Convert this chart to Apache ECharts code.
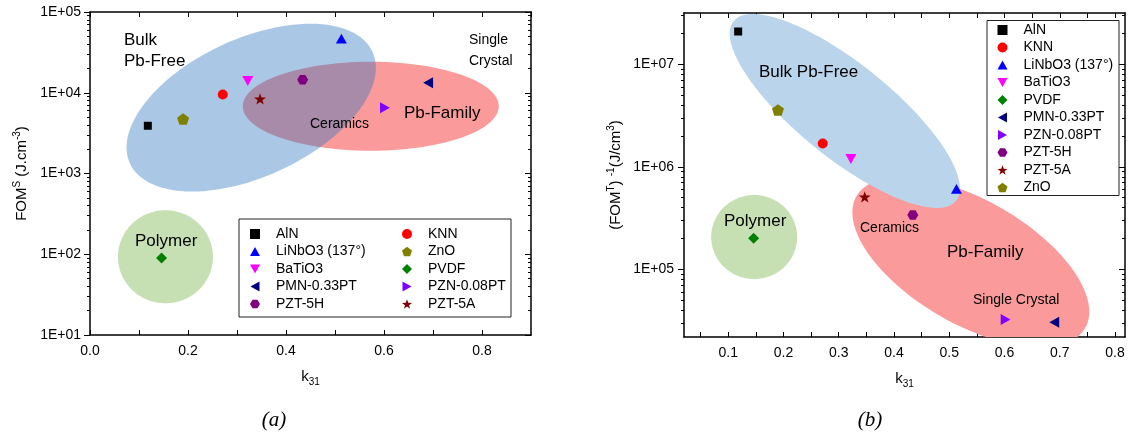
<!DOCTYPE html>
<html>
<head>
<meta charset="utf-8">
<script src="https://cdn.jsdelivr.net/npm/echarts@6/dist/echarts.min.js"></script>
<style>
html, body { margin: 0; padding: 0; background: #fff; }
#main { width: 1129px; height: 437px; }
</style>
</head>
<body>
<div id="main"></div>
<script>
// ---- data (same material order in both panels) ----
var materials = ['AlN', 'KNN', 'LiNbO3 (137°)', 'BaTiO3', 'PVDF', 'PMN-0.33PT', 'PZN-0.08PT', 'PZT-5H', 'PZT-5A', 'ZnO'];
var k31 = [0.118, 0.271, 0.513, 0.322, 0.146, 0.69, 0.602, 0.434, 0.347, 0.19];
var fomS = [3900, 9500, 46800, 14000, 90, 13300, 6500, 14500, 8400, 4730];          // panel (a)
var fomTinv = [2.08e7, 1.69e6, 6.1e5, 1.19e6, 2.02e5, 3.06e4, 3.25e4, 3.4e5, 5.1e5, 3.58e6]; // panel (b)

var legendColA1 = ['AlN', 'LiNbO3 (137°)', 'BaTiO3', 'PMN-0.33PT', 'PZT-5H'];
var legendColA2 = ['KNN', 'ZnO', 'PVDF', 'PZN-0.08PT', 'PZT-5A'];

// shaded regions: [k31, FOM] centres (Pb-Family, Bulk Pb-Free, Polymer)
var regionCentersA = [[0.573, 6810], [0.329, 6540], [0.154, 93]];
var regionCentersB = [[0.539, 1.18e5], [0.311, 3.5e6], [0.147, 2.07e5]];

// ticks
var yMajorA = [10, 100, 1000, 1e4, 1e5];
var yMinorA = [20, 30, 40, 50, 60, 70, 80, 90, 200, 300, 400, 500, 600, 700, 800, 900,
  2000, 3000, 4000, 5000, 6000, 7000, 8000, 9000, 2e4, 3e4, 4e4, 5e4, 6e4, 7e4, 8e4, 9e4];
var yMajorB = [1e5, 1e6, 1e7];
var yMinorB = [3e4, 4e4, 5e4, 6e4, 7e4, 8e4, 9e4, 2e5, 3e5, 4e5, 5e5, 6e5, 7e5, 8e5, 9e5,
  2e6, 3e6, 4e6, 5e6, 6e6, 7e6, 8e6, 9e6, 2e7, 3e7];
var xTicksB = [0.05, 0.1, 0.15, 0.2, 0.25, 0.3, 0.35, 0.4, 0.45, 0.5, 0.55, 0.6, 0.65, 0.7, 0.75, 0.8];
var xLabelsB = [0.1, 0.2, 0.3, 0.4, 0.5, 0.6, 0.7, 0.8];

// ---- styles ----
var FONT = '"Liberation Sans", Arial, sans-serif';
var HEX = 'path://M1,0 L0.5,0.866 L-0.5,0.866 L-1,0 L-0.5,-0.866 L0.5,-0.866 Z';
var PENT = 'path://M0,-1 L0.951,-0.309 L0.588,0.809 L-0.588,0.809 L-0.951,-0.309 Z';
var STAR = 'path://M0,-1 L0.235,-0.324 L0.951,-0.309 L0.38,0.124 L0.588,0.809 L0,0.4 L-0.588,0.809 L-0.38,0.124 L-0.951,-0.309 L-0.235,-0.324 Z';
var TRI_UP = 'path://M0,-1 L1,0.8 L-1,0.8 Z';
var TRI_DOWN = 'path://M-1,-0.8 L1,-0.8 L0,1 Z';
var TRI_LEFT = 'path://M0.8,-1 L0.8,1 L-1,0 Z';
var TRI_RIGHT = 'path://M-0.8,-1 L-0.8,1 L1,0 Z';

var markerStyle = {
  'AlN': { symbol: 'rect', size: 8, color: '#000000' },
  'KNN': { symbol: 'circle', size: 10, color: '#ff0000' },
  'LiNbO3 (137°)': { symbol: TRI_UP, size: 11, color: '#0000ff' },
  'BaTiO3': { symbol: TRI_DOWN, size: 11, color: '#ff00ff' },
  'PVDF': { symbol: 'diamond', size: 11, color: '#008000' },
  'PMN-0.33PT': { symbol: TRI_LEFT, size: 11, color: '#000080' },
  'PZN-0.08PT': { symbol: TRI_RIGHT, size: 11, color: '#8000ff' },
  'PZT-5H': { symbol: HEX, size: 11, color: '#800080' },
  'PZT-5A': { symbol: STAR, size: 12, color: '#800000' },
  'ZnO': { symbol: PENT, size: 12, color: '#808000' }
};

// ellipse sizes in px, rotation in degrees (screen)
var regionStyleA = [
  { rx: 128, ry: 44.5, rot: 0, fill: '#fb9a9a' },
  { rx: 133.5, ry: 69, rot: -24.7, fill: 'rgba(43,118,193,0.4)' },
  { rx: 47.5, ry: 46.5, rot: 0, fill: '#c6e0b4' }
];
var regionStyleB = [
  { rx: 132, ry: 62, rot: 30, fill: '#fb9a9a' },
  { rx: 143, ry: 47, rot: 38.9, fill: '#bad4ec' },
  { rx: 43, ry: 42, rot: 0, fill: '#c6e0b4' }
];

function expLabel(v) {
  var e = Math.round(Math.log10(v));
  return '1E+' + (e < 10 ? '0' : '') + e;
}

var lineStyle = { color: '#000', width: 1.5 };
var nameStyle = {
  fontFamily: FONT, fontSize: 15, color: '#000', lineHeight: 20,
  rich: {
    sup: { fontFamily: FONT, fontSize: 10, verticalAlign: 'top', lineHeight: 10 },
    sub: { fontFamily: FONT, fontSize: 10, verticalAlign: 'bottom', lineHeight: 10 }
  }
};
var labelStyle = { fontFamily: FONT, fontSize: 14, color: '#000' };

function scatterSeries(values, xi, yi) {
  return materials.map(function (m, i) {
    var s = markerStyle[m];
    return {
      name: m, type: 'scatter', xAxisIndex: xi, yAxisIndex: yi, z: 5,
      symbol: s.symbol, symbolSize: s.size, symbolKeepAspect: true,
      itemStyle: { color: s.color, opacity: 1 },
      emphasis: { disabled: true },
      data: [[k31[i], values[i]]]
    };
  });
}

function regionSeries(centers, styles, xi, yi) {
  return {
    type: 'custom', xAxisIndex: xi, yAxisIndex: yi, z: 1, clip: true, silent: true,
    data: centers,
    renderItem: function (params, api) {
      var c = api.coord([api.value(0), api.value(1)]);
      var st = styles[params.dataIndex];
      var th = st.rot * Math.PI / 180;
      var pts = [];
      for (var j = 0; j < 120; j++) {
        var t = j / 120 * 2 * Math.PI;
        var ex = st.rx * Math.cos(t), ey = st.ry * Math.sin(t);
        pts.push([c[0] + ex * Math.cos(th) - ey * Math.sin(th), c[1] + ex * Math.sin(th) + ey * Math.cos(th)]);
      }
      return { type: 'polygon', shape: { points: pts }, style: { fill: st.fill } };
    }
  };
}

function note(text, x, yCenter, fs) {
  return {
    type: 'text', x: x, y: yCenter - 10.5, z: 20,
    style: { text: text, fontFamily: FONT, fontSize: fs, lineHeight: 21, fill: '#000', verticalAlign: 'top' }
  };
}

// icon centre sits at left + 5, text starts 21px right of the icon centre
function legendCol(data, iconX, top) {
  return {
    data: data, orient: 'vertical', left: iconX - 5, top: top, padding: 0,
    itemWidth: 10, itemHeight: 10, itemGap: 3.5,
    textStyle: { fontFamily: FONT, fontSize: 14, color: '#000', padding: [0, 0, 0, 11] }
  };
}

var chart = echarts.init(document.getElementById('main'));

var option = {
  animation: false,
  grid: [
    { left: 90, top: 12, width: 441, height: 323 },
    { left: 684, top: 13, width: 441, height: 324 }
  ],
  legend: [
    legendCol(legendColA1, 255, 227),
    legendCol(legendColA2, 407, 227),
    legendCol(materials, 1002.5, 23)
  ],
  xAxis: [
    {
      type: 'value', gridIndex: 0, position: 'bottom', min: 0, max: 0.9, interval: 0.1,
      axisLine: { lineStyle: lineStyle }, splitLine: { show: false },
      axisTick: { inside: true, length: 5, lineStyle: { color: '#000' } },
      axisLabel: Object.assign({ margin: 9, showMaxLabel: false, formatter: function (v) {
        return Math.round(v * 10) % 2 === 0 ? v.toFixed(1) : '';
      } }, labelStyle),
      name: 'k{sub|31}', nameLocation: 'middle', nameGap: 32, nameTextStyle: nameStyle
    },
    {
      type: 'value', gridIndex: 0, position: 'top', min: 0, max: 0.9, interval: 0.1,
      axisLine: { lineStyle: lineStyle }, splitLine: { show: false },
      axisTick: { inside: true, length: 5, lineStyle: { color: '#000' } },
      axisLabel: { show: false }
    },
    {
      type: 'value', gridIndex: 1, position: 'bottom', min: 0.02, max: 0.818,
      axisLine: { lineStyle: lineStyle }, splitLine: { show: false },
      axisTick: { inside: true, length: 5, customValues: xTicksB, lineStyle: { color: '#000' } },
      axisLabel: Object.assign({ margin: 9, customValues: xLabelsB, formatter: function (v) { return v.toFixed(1); } }, labelStyle),
      name: 'k{sub|31}', nameLocation: 'middle', nameGap: 32, nameTextStyle: nameStyle
    },
    {
      type: 'value', gridIndex: 1, position: 'top', min: 0.02, max: 0.818,
      axisLine: { lineStyle: lineStyle }, splitLine: { show: false },
      axisTick: { inside: true, length: 5, customValues: xTicksB, lineStyle: { color: '#000' } },
      axisLabel: { show: false }
    }
  ],
  yAxis: [
    {
      type: 'log', logBase: 10, gridIndex: 0, position: 'left', min: 10, max: 1e5,
      axisLine: { show: true, lineStyle: lineStyle }, splitLine: { show: false },
      axisTick: { length: 6, customValues: yMajorA, lineStyle: { color: '#000' } },
      axisLabel: Object.assign({ margin: 9, customValues: yMajorA, formatter: expLabel }, labelStyle),
      name: 'FOM{sup|S} (J.cm{sup|-3})', nameLocation: 'middle', nameGap: 58, nameTextStyle: nameStyle
    },
    {
      type: 'log', logBase: 10, gridIndex: 0, position: 'left', min: 10, max: 1e5,
      axisLine: { show: false }, splitLine: { show: false }, axisLabel: { show: false },
      axisTick: { length: 3, customValues: yMinorA, lineStyle: { color: '#000' } }
    },
    {
      type: 'log', logBase: 10, gridIndex: 0, position: 'right', min: 10, max: 1e5,
      axisLine: { show: true, lineStyle: lineStyle }, splitLine: { show: false }, axisLabel: { show: false },
      axisTick: { inside: true, length: 6, customValues: yMajorA, lineStyle: { color: '#000' } }
    },
    {
      type: 'log', logBase: 10, gridIndex: 0, position: 'right', min: 10, max: 1e5,
      axisLine: { show: false }, splitLine: { show: false }, axisLabel: { show: false },
      axisTick: { inside: true, length: 3, customValues: yMinorA, lineStyle: { color: '#000' } }
    },
    {
      type: 'log', logBase: 10, gridIndex: 1, position: 'left', min: 2.2e4, max: 3.15e7,
      axisLine: { show: true, lineStyle: lineStyle }, splitLine: { show: false },
      axisTick: { length: 6, customValues: yMajorB, lineStyle: { color: '#000' } },
      axisLabel: Object.assign({ margin: 10, customValues: yMajorB, formatter: expLabel }, labelStyle),
      name: '(FOM{sup|T}) {sup|-1}(J/cm{sup|3})', nameLocation: 'middle', nameGap: 58, nameTextStyle: nameStyle
    },
    {
      type: 'log', logBase: 10, gridIndex: 1, position: 'left', min: 2.2e4, max: 3.15e7,
      axisLine: { show: false }, splitLine: { show: false }, axisLabel: { show: false },
      axisTick: { length: 3, customValues: yMinorB, lineStyle: { color: '#000' } }
    },
    {
      type: 'log', logBase: 10, gridIndex: 1, position: 'right', min: 2.2e4, max: 3.15e7,
      axisLine: { show: true, lineStyle: lineStyle }, splitLine: { show: false }, axisLabel: { show: false },
      axisTick: { inside: true, length: 6, customValues: yMajorB, lineStyle: { color: '#000' } }
    },
    {
      type: 'log', logBase: 10, gridIndex: 1, position: 'right', min: 2.2e4, max: 3.15e7,
      axisLine: { show: false }, splitLine: { show: false }, axisLabel: { show: false },
      axisTick: { inside: true, length: 3, customValues: yMinorB, lineStyle: { color: '#000' } }
    }
  ],
  series: [regionSeries(regionCentersA, regionStyleA, 0, 0), regionSeries(regionCentersB, regionStyleB, 2, 4)]
    .concat(scatterSeries(fomS, 0, 0))
    .concat(scatterSeries(fomTinv, 2, 4)),
  graphic: [
    { type: 'rect', z: 15, shape: { x: 239, y: 219, width: 272, height: 98 }, style: { fill: 'none', stroke: '#222', lineWidth: 1 } },
    { type: 'rect', z: 15, shape: { x: 987, y: 20.5, width: 132, height: 175 }, style: { fill: 'none', stroke: '#222', lineWidth: 1 } },
    note('Bulk\nPb-Free', 124, 40, 17),
    note('Single\nCrystal', 469, 40, 14),
    note('Ceramics', 310, 124, 14),
    note('Pb-Family', 404, 113, 17),
    note('Polymer', 135, 241, 17),
    note('Bulk Pb-Free', 759, 72, 17),
    note('Polymer', 724, 221, 17),
    note('Ceramics', 860, 228, 14),
    note('Pb-Family', 947, 252, 17),
    note('Single Crystal', 973, 300, 14),
    { type: 'text', x: 274, y: 420, z: 20, style: { text: '(a)', font: 'italic 21px "Liberation Serif", serif', fill: '#000', align: 'center', verticalAlign: 'middle' } },
    { type: 'text', x: 870, y: 420, z: 20, style: { text: '(b)', font: 'italic 21px "Liberation Serif", serif', fill: '#000', align: 'center', verticalAlign: 'middle' } }
  ]
};

chart.setOption(option);
</script>
</body>
</html>
